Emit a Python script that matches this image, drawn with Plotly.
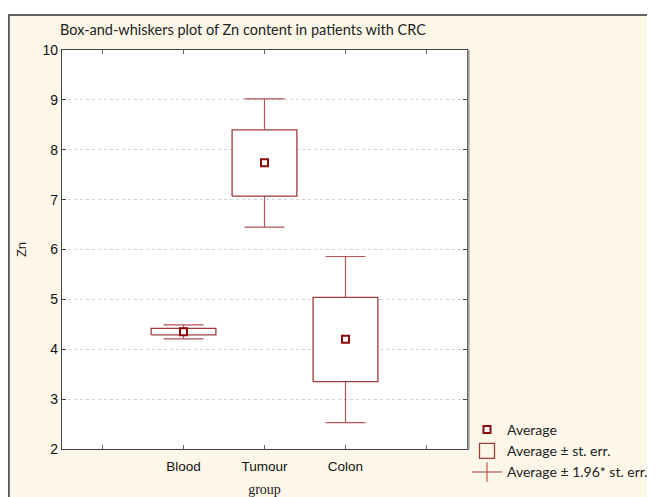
import plotly.graph_objects as go

# ---- data ----
groups = ["Blood", "Tumour", "Colon"]
means = [4.35, 7.74, 4.20]
se_low = [4.29, 7.07, 3.35]
se_high = [4.42, 8.40, 5.04]
ci_low = [4.21, 6.45, 2.53]
ci_high = [4.49, 9.02, 5.86]
y_ticks = [2, 3, 4, 5, 6, 7, 8, 9, 10]

pos = list(range(len(groups)))
half = 0.4  # box half width in category units
x_tickvals = [-1] + pos + [len(groups)]
x_ticktext = [""] + groups + [""]

BOX = "#9E3B3B"
WHISK = "#B85555"
MEAN = "#8B0A0A"
CREAM = "#FDF7EA"

fig = go.Figure()

# whiskers (mean ± 1.96 se) as error bars
fig.add_trace(go.Scatter(
    x=pos, y=means, mode="markers",
    marker=dict(size=1, color="rgba(0,0,0,0)"),
    error_y=dict(type="data", symmetric=False,
                 array=[h - m for h, m in zip(ci_high, means)],
                 arrayminus=[m - l for m, l in zip(means, ci_low)],
                 color=WHISK, thickness=1.2, width=20),
    showlegend=False, hoverinfo="skip"))

# boxes (mean ± se)
bx, by = [], []
for p, lo, hi in zip(pos, se_low, se_high):
    bx += [p - half, p + half, p + half, p - half, p - half, None]
    by += [lo, lo, hi, hi, lo, None]
fig.add_trace(go.Scatter(
    x=bx, y=by, mode="lines", fill="toself", fillcolor="white",
    line=dict(color=BOX, width=1.3),
    showlegend=False, hoverinfo="skip"))

# means
fig.add_trace(go.Scatter(
    x=pos, y=means, mode="markers",
    marker=dict(symbol="square", size=7, color="white",
                line=dict(color=MEAN, width=2)),
    name="Average", legendrank=1))

# legend-only entries
fig.add_trace(go.Scatter(
    x=[None], y=[None], mode="markers",
    marker=dict(symbol="square-open", size=15, color=BOX, line=dict(color=BOX, width=1.3)),
    name="Average ± st. err.", legendrank=2))
fig.add_trace(go.Scatter(
    x=[None], y=[None], mode="lines+markers",
    line=dict(color=WHISK, width=1.2),
    marker=dict(symbol="line-ns", size=14, line=dict(color=WHISK, width=1.2)),
    name="Average ± 1.96* st. err.", legendrank=3))

# background frame and plot area
fig.add_shape(type="rect", xref="paper", yref="paper",
              x0=-0.131, x1=1.6, y0=-0.3, y1=1.0877,
              fillcolor=CREAM, line=dict(color="#333333", width=1.5), layer="below")
fig.add_shape(type="rect", xref="paper", yref="paper",
              x0=0, x1=1, y0=0, y1=1,
              fillcolor="white", line=dict(width=0), layer="below")
# right border shadow
fig.add_shape(type="line", xref="paper", yref="paper",
              x0=1.004, x1=1.004, y0=-0.003, y1=1.0,
              line=dict(color="#A0A0A0", width=2), layer="above")

W, H = 647, 489  # page has 8px body margin
fig.update_layout(
    width=W, height=H,
    margin=dict(l=54, r=188, t=42, b=48, autoexpand=False),
    paper_bgcolor="white", plot_bgcolor="white",
    font=dict(family="Liberation Sans, Arial", size=12, color="#111111"),
    title=dict(text="Box-and-whiskers plot of Zn content in patients with CRC",
               x=52 / W, xanchor="left", y=1 - 22 / H, yanchor="middle",
               font=dict(family="Lato, Noto Sans", size=14.5, color="#222222")),
    showlegend=True,
    legend=dict(x=1.0, xanchor="left", y=-0.005, yanchor="middle",
                bgcolor="rgba(0,0,0,0)", borderwidth=0,
                font=dict(family="Lato, Noto Sans", size=14, color="#222222"),
                tracegroupgap=0, itemwidth=30),
)

fig.update_xaxes(
    range=[-1.5, 3.5], tickmode="array", tickvals=x_tickvals, ticktext=x_ticktext,
    showgrid=False, zeroline=False, automargin=False,
    showline=True, linecolor="#444444", linewidth=1.2, mirror="ticks",
    ticks="inside", ticklen=4, tickcolor="#666666",
    ticklabelstandoff=5,
    tickfont=dict(family="Liberation Sans, Arial", size=13.5, color="#111111"),
    title=dict(text="group", standoff=10,
               font=dict(family="Liberation Serif, Times New Roman", size=14, color="#222222")),
)
fig.update_yaxes(
    range=[2, 10], tickmode="array", tickvals=y_ticks,
    showgrid=True, gridcolor="#D0D0D0", griddash="dot", gridwidth=1,
    zeroline=False, automargin=False,
    showline=True, linecolor="#444444", linewidth=1.2, mirror="ticks",
    ticks="inside", ticklen=4, tickcolor="#444444",
    tickfont=dict(family="Liberation Sans, Arial", size=14, color="#111111"),
    title=dict(text="Zn", standoff=12,
               font=dict(family="Liberation Sans, Arial", size=13, color="#222222")),
)

fig.write_html("out.html")
